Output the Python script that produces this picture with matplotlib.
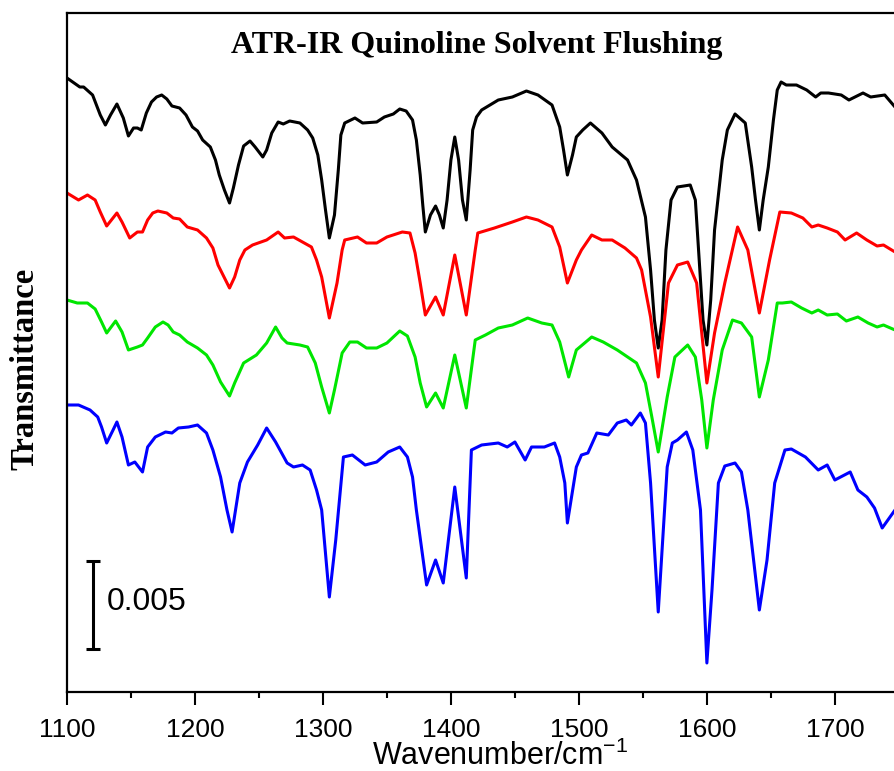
import matplotlib
matplotlib.use("Agg")
import matplotlib.pyplot as plt
import numpy as np
from matplotlib.ticker import MultipleLocator

# ---- data (heights, in units where 88 = 0.005 transmittance) ----
UNIT = 0.005 / 88.0

black_wn = [1100, 1110, 1113, 1120, 1126, 1130, 1134, 1139, 1144, 1148, 1152, 1155, 1158, 1162, 1166,
            1170, 1174, 1178, 1182, 1188, 1193, 1198, 1202, 1206, 1212, 1216, 1219, 1223, 1227, 1230,
            1234, 1238, 1243, 1247, 1253, 1256, 1260, 1265, 1269, 1274, 1282, 1288, 1292, 1296, 1299,
            1302, 1305, 1309, 1312, 1314, 1317, 1325, 1331, 1342, 1348, 1355, 1360, 1365, 1370, 1373,
            1376, 1378, 1380, 1384, 1388, 1391, 1394, 1397, 1400, 1403, 1406, 1409, 1412, 1415, 1417,
            1420, 1424, 1437, 1448, 1459, 1468, 1479, 1485, 1488, 1491, 1495, 1498, 1503, 1509, 1518,
            1526, 1538, 1545, 1552, 1556, 1559, 1562, 1565, 1568, 1572, 1577, 1587, 1591, 1594, 1597,
            1600, 1603, 1606, 1612, 1616, 1622, 1630, 1635, 1638, 1641, 1644, 1648, 1652, 1655, 1658,
            1662, 1670, 1678, 1685, 1689, 1695, 1705, 1711, 1722, 1728, 1739, 1747]
black_h = [614, 605, 605, 597, 577, 567, 577, 588, 574, 556, 564, 564, 562, 579, 590,
           595, 597, 593, 586, 584, 577, 565, 561, 552, 545, 532, 517, 502, 489, 504,
           527, 546, 551, 545, 535, 542, 559, 570, 568, 571, 569, 562, 554, 537, 512,
           482, 454, 477, 522, 557, 569, 574, 569, 570, 575, 578, 583, 581, 572, 552,
           517, 487, 460, 477, 486, 477, 464, 492, 532, 555, 532, 492, 472, 522, 562,
           575, 582, 592, 595, 601, 597, 587, 565, 542, 517, 537, 555, 562, 569, 559,
           545, 532, 512, 475, 422, 372, 344, 372, 442, 492, 505, 507, 492, 432, 372,
           347, 392, 462, 532, 562, 578, 569, 525, 492, 462, 492, 525, 572, 602, 610,
           607, 607, 602, 595, 599, 599, 597, 592, 599, 595, 597, 585]

red_wn = [1100, 1109, 1116, 1122, 1126, 1131, 1139, 1143, 1149, 1155, 1159, 1163, 1167, 1171, 1178,
          1183, 1188, 1194, 1202, 1209, 1214, 1218, 1227, 1231, 1235, 1239, 1245, 1256, 1265, 1270,
          1277, 1284, 1291, 1295, 1299, 1305, 1311, 1315, 1317, 1327, 1334, 1342, 1350, 1362, 1368,
          1372, 1376, 1380, 1388, 1394, 1403, 1412, 1419, 1421, 1434, 1448, 1459, 1468, 1479, 1485,
          1491, 1498, 1502, 1510, 1518, 1526, 1536, 1545, 1549, 1556, 1562, 1570, 1577, 1585, 1592,
          1600, 1606, 1614, 1624, 1632, 1641, 1649, 1657, 1666, 1675, 1682, 1687, 1694, 1702, 1708,
          1717, 1725, 1733, 1738, 1747]
red_h = [499, 492, 497, 492, 480, 466, 479, 470, 454, 460, 460, 472, 479, 481, 479,
         474, 473, 465, 462, 454, 444, 427, 404, 415, 432, 442, 447, 452, 460, 454,
         455, 450, 445, 432, 415, 374, 409, 442, 452, 455, 449, 449, 455, 460, 459,
         439, 409, 377, 395, 377, 437, 377, 442, 459, 464, 470, 475, 472, 465, 445,
         409, 432, 442, 457, 452, 452, 444, 434, 422, 375, 315, 409, 427, 430, 409,
         309, 359, 409, 465, 442, 379, 432, 480, 479, 474, 465, 467, 464, 460, 452,
         459, 452, 446, 447, 440]

green_wn = [1100, 1108, 1116, 1122, 1127, 1131, 1138, 1143, 1148, 1155, 1159, 1163, 1169, 1175, 1179,
            1183, 1188, 1194, 1202, 1209, 1214, 1220, 1227, 1231, 1238, 1248, 1256, 1263, 1268, 1272,
            1282, 1288, 1294, 1299, 1305, 1309, 1315, 1321, 1327, 1334, 1342, 1350, 1360, 1366, 1372,
            1376, 1381, 1388, 1394, 1403, 1412, 1419, 1427, 1437, 1448, 1460, 1471, 1479, 1485, 1492,
            1498, 1510, 1519, 1530, 1545, 1552, 1557, 1562, 1569, 1575, 1585, 1591, 1596, 1600, 1605,
            1612, 1620, 1627, 1635, 1641, 1648, 1655, 1659, 1666, 1674, 1682, 1687, 1694, 1702, 1709,
            1718, 1726, 1733, 1738, 1747]
green_h = [392, 389, 389, 383, 370, 359, 371, 360, 342, 345, 347, 354, 365, 370, 367,
           360, 357, 350, 344, 337, 327, 310, 296, 309, 329, 337, 349, 365, 354, 349,
           347, 345, 329, 305, 279, 302, 339, 350, 350, 344, 344, 349, 361, 356, 335,
           309, 285, 299, 284, 337, 284, 352, 357, 364, 367, 374, 369, 367, 350, 315,
           342, 355, 350, 342, 329, 309, 275, 240, 295, 335, 347, 335, 292, 244, 292,
           342, 372, 369, 355, 295, 332, 389, 389, 390, 384, 379, 382, 377, 378, 371,
           375, 369, 365, 367, 362]

blue_wn = [1100, 1109, 1118, 1124, 1127, 1131, 1136, 1139, 1143, 1148, 1153, 1159, 1163, 1169, 1177,
           1182, 1187, 1195, 1202, 1209, 1214, 1220, 1225, 1229, 1235, 1241, 1249, 1256, 1263, 1272,
           1277, 1284, 1290, 1295, 1299, 1305, 1310, 1316, 1323, 1333, 1342, 1351, 1360, 1366, 1370,
           1373, 1381, 1388, 1394, 1403, 1412, 1416, 1424, 1437, 1444, 1450, 1458, 1463, 1473, 1481,
           1485, 1489, 1491, 1498, 1502, 1507, 1514, 1523, 1530, 1537, 1541, 1548, 1552, 1556, 1562,
           1569, 1573, 1577, 1584, 1589, 1595, 1600, 1604, 1609, 1614, 1622, 1627, 1632, 1641, 1647,
           1653, 1661, 1666, 1677, 1687, 1694, 1700, 1712, 1718, 1725, 1731, 1737, 1747]
blue_h = [287, 287, 282, 275, 265, 249, 262, 270, 255, 227, 230, 220, 245, 255, 260,
          259, 264, 265, 267, 259, 242, 215, 182, 160, 209, 230, 247, 264, 250, 229,
          225, 227, 222, 202, 182, 95, 152, 235, 237, 227, 230, 240, 245, 235, 215,
          182, 107, 132, 109, 205, 114, 242, 247, 249, 245, 250, 232, 245, 245, 249,
          235, 209, 169, 225, 237, 239, 259, 257, 269, 272, 267, 279, 269, 209, 80,
          225, 249, 252, 260, 242, 182, 29, 102, 209, 226, 229, 220, 182, 82, 132,
          209, 242, 243, 235, 222, 227, 212, 220, 202, 195, 184, 164, 182]

series = [
    (black_wn, black_h, "#000000"),
    (red_wn, red_h, "#ff0000"),
    (green_wn, green_h, "#00e600"),
    (blue_wn, blue_h, "#0000ff"),
]

xticks = [1100, 1200, 1300, 1400, 1500, 1600, 1700]
title = "ATR-IR Quinoline Solvent Flushing"
xlabel = "Wavenumber/cm$^{\\mathregular{-1}}$"
ylabel = "Transmittance"
scale_value = 0.005
scale_x = 1120
scale_center = 87 * UNIT

# ---- figure ----
W, H = 895, 771
fig = plt.figure(figsize=(W / 100, H / 100), dpi=100)
ax = fig.add_axes([67 / W, 79 / H, (W - 67) / W, (692 - 13) / H])

for wn, h, c in series:
    ax.plot(wn, np.asarray(h) * UNIT, color=c, lw=2.2, solid_joinstyle="round")

ax.set_xlim(1100, 1747)
ax.set_ylim(0, 679 * UNIT)

for s in ["left", "bottom", "top"]:
    ax.spines[s].set_linewidth(1.6)
ax.spines["right"].set_visible(False)

ax.set_xticks(xticks)
ax.xaxis.set_minor_locator(MultipleLocator(50))
ax.tick_params(axis="x", which="major", direction="out", length=9, width=1.5,
               labelsize=19, pad=10, top=False)
ax.tick_params(axis="x", which="minor", direction="out", length=4.5, width=1.5, top=False)
ax.set_yticks([])
for lbl in ax.get_xticklabels():
    lbl.set_fontfamily("Liberation Sans")

fig.text(500 / W, 1 - 756 / H, xlabel, fontsize=22, family="Liberation Sans",
         ha="center", va="center")
fig.text(25 / W, 1 - 369 / H, ylabel, fontsize=23.5, family="Liberation Serif",
         fontweight="bold", rotation=90, ha="center", va="center")

# scale bar
ax.errorbar([scale_x], [scale_center], yerr=[scale_value / 2], color="k", capsize=5,
            elinewidth=2.2, capthick=2.2, fmt="none")
ax.text(1131, scale_center + 3 * UNIT, f"{scale_value}", fontsize=23, family="Liberation Sans",
        va="center", ha="left")

fig.text(477 / W, 1 - 46 / H, title, fontsize=23, family="Liberation Serif",
         fontweight="bold", ha="center", va="center")

fig.savefig("out.png", dpi=100)
